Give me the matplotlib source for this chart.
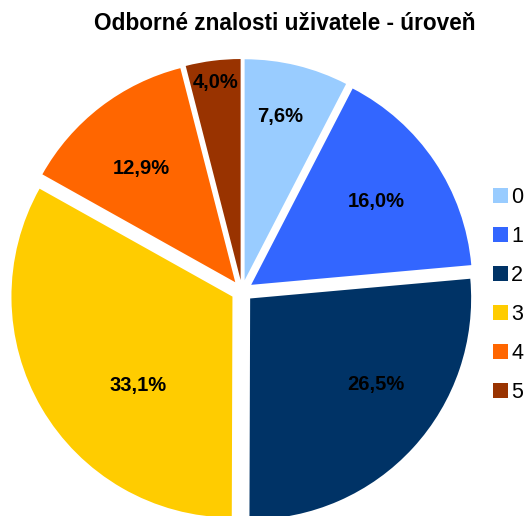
import numpy as np
import matplotlib
matplotlib.use('agg')
import matplotlib.pyplot as plt

plt.rcParams['font.family'] = ['Liberation Sans', 'DejaVu Sans']

title = "Odborné znalosti uživatele - úroveň"
levels = ['0', '1', '2', '3', '4', '5']
shares = [7.6, 16.0, 26.5, 33.1, 12.9, 4.0]
colors = ['#99CCFF', '#3366FF', '#003366', '#FFCC00', '#FF6600', '#993300']

# label placement tweaks (fraction of radius, angle offset in degrees)
label_r = [0.76, 0.68, 0.69, 0.59, 0.67, 0.90]
label_dang = [1.5, 0, 8, 13, 2, 0]


def pct_fmt(p):
    return "{:.1f}%".format(p).replace('.', ',')


fig = plt.figure(figsize=(5.30, 5.16), dpi=100)
ax = fig.add_axes([0, 0, 1, 1])

wedges, texts, autotexts = ax.pie(shares, colors=colors, startangle=90,
                                  counterclock=False, explode=[0.05] * 6,
                                  autopct=pct_fmt, pctdistance=0.68,
                                  wedgeprops=dict(linewidth=0),
                                  textprops=dict(fontsize=14.5, fontweight='bold',
                                                 color='black'))

for w, t, d, da in zip(wedges, autotexts, label_r, label_dang):
    ang = np.deg2rad((w.theta1 + w.theta2) / 2 + da)
    t.set_position((w.center[0] + d * w.r * np.cos(ang),
                    w.center[1] + d * w.r * np.sin(ang)))

# pie centre at (242, 291) px, radius 221 px
ax.set_xlim(-242 / 221, (530 - 242) / 221)
ax.set_ylim(-(516 - 291) / 221, 291 / 221)
ax.axis('off')

fig.text(285 / 530, 1 - 30 / 516, title, ha='center', va='baseline',
         fontsize=16.3, fontweight='bold')

fig.legend(wedges, levels, loc='center left', bbox_to_anchor=(493 / 530, 1 - 295 / 516),
           frameon=False, fontsize=15.5, handlelength=0.7, handleheight=0.68,
           handletextpad=0.15, labelspacing=0.84, borderpad=0, borderaxespad=0)

fig.savefig('out.png', dpi=100)
